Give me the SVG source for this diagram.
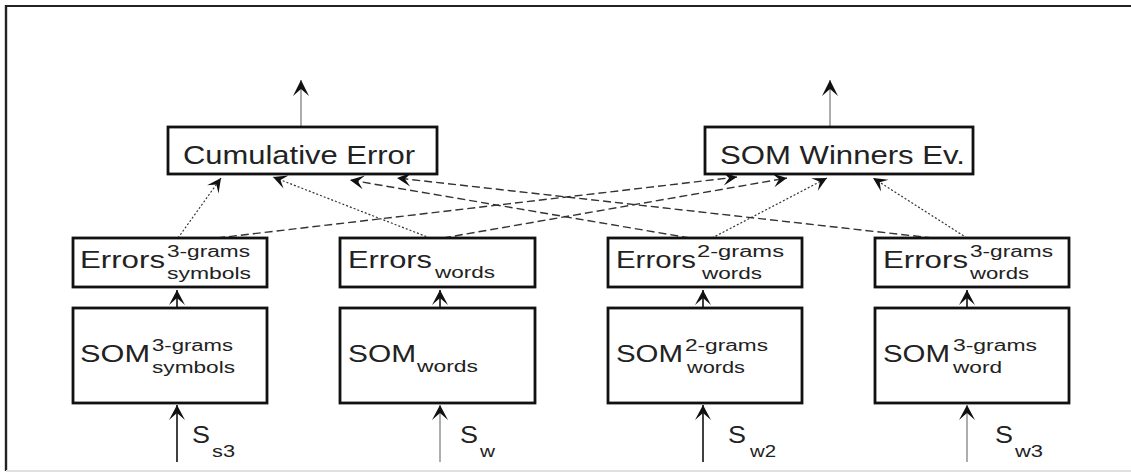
<svg xmlns="http://www.w3.org/2000/svg" width="1131" height="472" viewBox="0 0 1131 472">
<style>
text{font-family:"Liberation Sans",Arial,sans-serif;fill:#222}
.box{fill:#fff;stroke:#111;stroke-width:2.8}
.big{font-size:26px}
.mid{font-size:24px}
.sm{font-size:16px}
.dot{fill:none;stroke:#333;stroke-width:1.2;stroke-dasharray:2,2}
.dash{fill:none;stroke:#333;stroke-width:1.4;stroke-dasharray:8,4}
.vg{stroke:#999;stroke-width:1.6}
.vb{stroke:#111;stroke-width:1.6}
</style>
<defs>
<marker id="ahBig" markerUnits="userSpaceOnUse" viewBox="-17 -9 18 18" refX="0" refY="0" markerWidth="18" markerHeight="18" orient="auto">
<path d="M0,0 L-16,-8 L-9,0 L-16,8 Z" fill="#111"/>
</marker>
<marker id="ahMid" markerUnits="userSpaceOnUse" viewBox="-17 -9 18 18" refX="0" refY="0" markerWidth="18" markerHeight="18" orient="auto">
<path d="M0,0 L-15,-8 L-8,0 L-15,8 Z" fill="#111"/>
</marker>
<marker id="ahSm" markerUnits="userSpaceOnUse" viewBox="-15 -8 16 16" refX="0" refY="0" markerWidth="16" markerHeight="16" orient="auto">
<path d="M0,0 L-14,-7 L-8,0 L-14,7 Z" fill="#111"/>
</marker>
</defs>
<rect width="1131" height="472" fill="#fff"/>
<g id="frame">
<line x1="6" y1="6" x2="1131" y2="6" stroke="#222" stroke-width="2.2"/>
<line x1="6" y1="5" x2="6" y2="471" stroke="#222" stroke-width="2.4"/>
<line x1="6" y1="471" x2="1131" y2="471" stroke="#e0e0e0" stroke-width="2"/>
</g>
<g id="connectors">
<line class="vg" x1="301" y1="127" x2="301" y2="80" marker-end="url(#ahBig)"/>
<line class="vg" x1="830" y1="127" x2="830" y2="80" marker-end="url(#ahBig)"/>
<line class="vb" x1="177" y1="308" x2="177" y2="290" marker-end="url(#ahMid)"/>
<line class="vb" x1="440" y1="308" x2="440" y2="290" marker-end="url(#ahMid)"/>
<line class="vb" x1="703" y1="308" x2="703" y2="290" marker-end="url(#ahMid)"/>
<line class="vb" x1="967" y1="308" x2="967" y2="290" marker-end="url(#ahMid)"/>
<line class="vb" x1="177" y1="462" x2="177" y2="405" marker-end="url(#ahMid)"/>
<line class="vg" x1="440" y1="462" x2="440" y2="405" marker-end="url(#ahMid)"/>
<line class="vb" x1="703" y1="462" x2="703" y2="405" marker-end="url(#ahMid)"/>
<line class="vg" x1="967" y1="462" x2="967" y2="405" marker-end="url(#ahMid)"/>
<line class="dot" x1="178" y1="238" x2="221" y2="178" marker-end="url(#ahSm)"/>
<line class="dot" x1="430" y1="238" x2="273" y2="177" marker-end="url(#ahSm)"/>
<line class="dash" x1="690" y1="238" x2="350" y2="180" marker-end="url(#ahSm)"/>
<line class="dash" x1="933" y1="238" x2="397" y2="178" marker-end="url(#ahSm)"/>
<line class="dash" x1="217" y1="238" x2="737" y2="177" marker-end="url(#ahSm)"/>
<line class="dash" x1="443" y1="238" x2="787" y2="178" marker-end="url(#ahSm)"/>
<line class="dot" x1="712" y1="238" x2="827" y2="178" marker-end="url(#ahSm)"/>
<line class="dot" x1="967" y1="238" x2="873" y2="178" marker-end="url(#ahSm)"/>
</g>
<g id="cumulative-error">
<rect class="box" x="168" y="127" width="269" height="47"/>
<text class="big" x="183" y="164" textLength="232" lengthAdjust="spacingAndGlyphs">Cumulative Error</text>
</g>
<g id="som-winners">
<rect class="box" x="705" y="127" width="268" height="47"/>
<text class="big" x="720" y="164" textLength="245" lengthAdjust="spacingAndGlyphs">SOM Winners Ev.</text>
</g>
<g id="errors-symbols">
<rect class="box" x="73" y="238" width="194" height="49"/>
<text class="mid" x="80" y="268" textLength="85" lengthAdjust="spacingAndGlyphs">Errors</text>
<text class="sm" x="167" y="257" textLength="83" lengthAdjust="spacingAndGlyphs">3-grams</text>
<text class="sm" x="167" y="279" textLength="84" lengthAdjust="spacingAndGlyphs">symbols</text>
</g>
<g id="errors-words">
<rect class="box" x="340" y="238" width="195" height="49"/>
<text class="mid" x="348" y="268" textLength="84" lengthAdjust="spacingAndGlyphs">Errors</text>
<text class="sm" x="435" y="278" textLength="60" lengthAdjust="spacingAndGlyphs">words</text>
</g>
<g id="errors-2grams">
<rect class="box" x="608" y="238" width="194" height="49"/>
<text class="mid" x="616" y="268" textLength="80" lengthAdjust="spacingAndGlyphs">Errors</text>
<text class="sm" x="697" y="257" textLength="87" lengthAdjust="spacingAndGlyphs">2-grams</text>
<text class="sm" x="702" y="279" textLength="60" lengthAdjust="spacingAndGlyphs">words</text>
</g>
<g id="errors-3grams">
<rect class="box" x="875" y="238" width="194" height="49"/>
<text class="mid" x="883" y="268" textLength="85" lengthAdjust="spacingAndGlyphs">Errors</text>
<text class="sm" x="970" y="257" textLength="83" lengthAdjust="spacingAndGlyphs">3-grams</text>
<text class="sm" x="970" y="279" textLength="59" lengthAdjust="spacingAndGlyphs">words</text>
</g>
<g id="som-symbols">
<rect class="box" x="73" y="308" width="194" height="95"/>
<text class="mid" x="80" y="362" textLength="70" lengthAdjust="spacingAndGlyphs">SOM</text>
<text class="sm" x="152" y="351" textLength="81" lengthAdjust="spacingAndGlyphs">3-grams</text>
<text class="sm" x="152" y="373" textLength="83" lengthAdjust="spacingAndGlyphs">symbols</text>
</g>
<g id="som-words">
<rect class="box" x="340" y="308" width="195" height="95"/>
<text class="mid" x="348" y="362" textLength="68" lengthAdjust="spacingAndGlyphs">SOM</text>
<text class="sm" x="417" y="372" textLength="61" lengthAdjust="spacingAndGlyphs">words</text>
</g>
<g id="som-2grams">
<rect class="box" x="608" y="308" width="194" height="95"/>
<text class="mid" x="616" y="362" textLength="67" lengthAdjust="spacingAndGlyphs">SOM</text>
<text class="sm" x="685" y="351" textLength="83" lengthAdjust="spacingAndGlyphs">2-grams</text>
<text class="sm" x="687" y="373" textLength="58" lengthAdjust="spacingAndGlyphs">words</text>
</g>
<g id="som-3grams">
<rect class="box" x="875" y="308" width="194" height="95"/>
<text class="mid" x="883" y="362" textLength="67" lengthAdjust="spacingAndGlyphs">SOM</text>
<text class="sm" x="953" y="351" textLength="84" lengthAdjust="spacingAndGlyphs">3-grams</text>
<text class="sm" x="953" y="373" textLength="49" lengthAdjust="spacingAndGlyphs">word</text>
</g>
<g id="input-ss3">
<text class="mid" x="192" y="443" textLength="18" lengthAdjust="spacingAndGlyphs">S</text>
<text class="sm" x="212" y="457" textLength="23" lengthAdjust="spacingAndGlyphs">s3</text>
</g>
<g id="input-sw">
<text class="mid" x="460" y="443" textLength="18" lengthAdjust="spacingAndGlyphs">S</text>
<text class="sm" x="480" y="457" textLength="15" lengthAdjust="spacingAndGlyphs">w</text>
</g>
<g id="input-sw2">
<text class="mid" x="728" y="443" textLength="18" lengthAdjust="spacingAndGlyphs">S</text>
<text class="sm" x="750" y="457" textLength="26" lengthAdjust="spacingAndGlyphs">w2</text>
</g>
<g id="input-sw3">
<text class="mid" x="995" y="443" textLength="18" lengthAdjust="spacingAndGlyphs">S</text>
<text class="sm" x="1015" y="457" textLength="28" lengthAdjust="spacingAndGlyphs">w3</text>
</g>
</svg>
